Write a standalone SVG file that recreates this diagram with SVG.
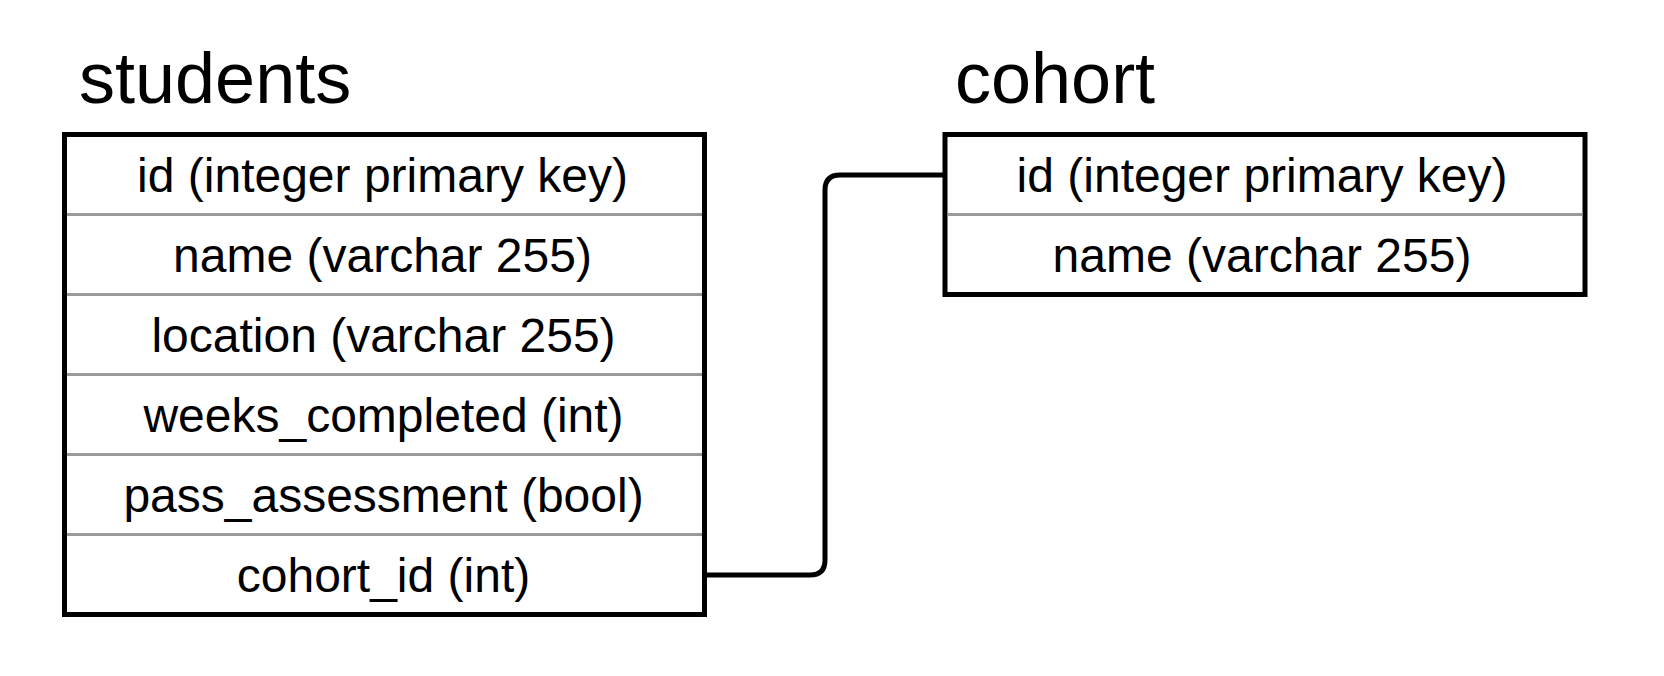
<svg xmlns="http://www.w3.org/2000/svg" width="1664" height="676" viewBox="0 0 1664 676">
<style>
.title{font-family:"Liberation Sans",Arial,Helvetica,sans-serif;font-size:72px;fill:#000}
.field{font-family:"Liberation Sans",Arial,Helvetica,sans-serif;font-size:48px;fill:#000;text-anchor:middle}
.box{fill:#fff;stroke:#000;stroke-width:5}
.div{stroke:#9a9a9a;stroke-width:3}
.conn{fill:none;stroke:#000;stroke-width:5;stroke-linejoin:round}
</style>
<rect width="1664" height="676" fill="#fff"/>
<g id="connectors">
<path class="conn" d="M705 575 H810 Q825 575 825 560 V190 Q825 175 840 175 H945"/>
</g>
<g id="students">
<text class="title" x="79" y="103">students</text>
<rect class="box" x="64.5" y="134.5" width="640" height="480"/>
<line class="div" x1="67" y1="214.5" x2="702" y2="214.5"/>
<line class="div" x1="67" y1="294.5" x2="702" y2="294.5"/>
<line class="div" x1="67" y1="374.5" x2="702" y2="374.5"/>
<line class="div" x1="67" y1="454.5" x2="702" y2="454.5"/>
<line class="div" x1="67" y1="534.5" x2="702" y2="534.5"/>
<text class="field" x="382.5" y="192">id (integer primary key)</text>
<text class="field" x="382.5" y="272">name (varchar 255)</text>
<text class="field" x="383.5" y="352">location (varchar 255)</text>
<text class="field" x="383.5" y="432">weeks_completed (int)</text>
<text class="field" x="383.5" y="512">pass_assessment (bool)</text>
<text class="field" x="383.5" y="592">cohort_id (int)</text>
</g>
<g id="cohort">
<text class="title" x="955" y="103">cohort</text>
<rect class="box" x="945" y="134.5" width="640" height="160"/>
<line class="div" x1="947.5" y1="214.5" x2="1582.5" y2="214.5"/>
<text class="field" x="1262" y="192">id (integer primary key)</text>
<text class="field" x="1262" y="272">name (varchar 255)</text>
</g>
</svg>
